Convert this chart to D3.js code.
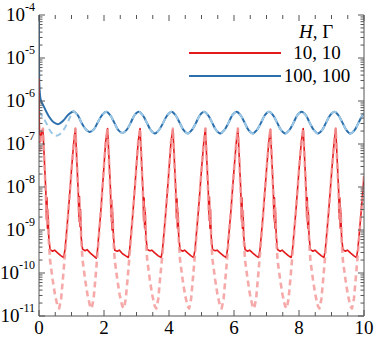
<!DOCTYPE html>
<html><head><meta charset="utf-8">
<script src="https://cdn.jsdelivr.net/npm/d3@7"></script>
<style>body{margin:0;background:#fff}svg{display:block}</style>
</head><body><svg id="c" width="380" height="338"></svg>
<script>
// ---- data ----
const xTicks = [0, 2, 4, 6, 8, 10];
const yExponents = [-4, -5, -6, -7, -8, -9, -10, -11];
const legendTitle = ["H", ", Γ"];
const legendLabels = ["10, 10", "100, 100"];

// H=10, Γ=10 (solid)
const redSolid = [
 [0,3.4e-6],[0.01,3e-7],[0.025,1.1e-7],[0.05,1.4e-7],[0.08,1.9e-7],
 [0.12,2.2e-7],[0.17,3.5e-8],[0.21,8e-9],[0.23,1.8e-9],[0.245,5.6e-9],[0.26,1.1e-9],[0.275,2.8e-9],[0.30,7e-10],[0.34,3.5e-10],[0.42,3.2e-10],[0.48,3.4e-10],[0.58,2.9e-10],[0.68,2.5e-10],[0.76,2.3e-10],[0.80,3.5e-10],[0.90,2.5e-9],[1.00,2.5e-8],[1.07,1.1e-7],
 [1.12,2.3e-7],[1.17,3.2e-8],[1.21,7e-9],[1.23,1.6e-9],[1.245,6e-9],[1.26,1.2e-9],[1.275,3e-9],[1.30,6.5e-10],[1.34,3.6e-10],[1.42,3.3e-10],[1.48,3.5e-10],[1.58,2.9e-10],[1.68,2.5e-10],[1.76,2.2e-10],[1.80,3.4e-10],[1.90,2.6e-9],[1.99,2.4e-8],[2.05,1.1e-7],
 [2.11,2.3e-7],[2.16,3.6e-8],[2.20,8.5e-9],[2.22,2e-9],[2.235,5e-9],[2.25,1e-9],[2.265,2.6e-9],[2.29,7e-10],[2.33,3.4e-10],[2.41,3.2e-10],[2.47,3.4e-10],[2.57,2.8e-10],[2.67,2.5e-10],[2.75,2.3e-10],[2.79,3.5e-10],[2.89,2.5e-9],[2.99,2.6e-8],[3.05,1.1e-7],
 [3.11,2.3e-7],[3.16,3.4e-8],[3.20,7.5e-9],[3.22,1.7e-9],[3.235,5.5e-9],[3.25,1.1e-9],[3.265,2.9e-9],[3.29,7e-10],[3.33,3.5e-10],[3.41,3.3e-10],[3.47,3.4e-10],[3.57,2.9e-10],[3.67,2.5e-10],[3.76,2.3e-10],[3.80,3.5e-10],[3.90,2.5e-9],[4.00,2.5e-8],[4.06,1.1e-7],
 [4.12,2.2e-7],[4.17,3.5e-8],[4.21,8e-9],[4.23,1.9e-9],[4.245,5.4e-9],[4.26,1.1e-9],[4.275,2.7e-9],[4.30,7e-10],[4.34,3.5e-10],[4.42,3.2e-10],[4.48,3.4e-10],[4.58,2.9e-10],[4.68,2.5e-10],[4.76,2.3e-10],[4.80,3.5e-10],[4.90,2.5e-9],[5.00,2.5e-8],[5.07,1.1e-7],
 [5.12,2.3e-7],[5.17,3.3e-8],[5.21,7.5e-9],[5.23,1.7e-9],[5.245,5.8e-9],[5.26,1.1e-9],[5.275,2.9e-9],[5.30,6.8e-10],[5.34,3.5e-10],[5.42,3.3e-10],[5.48,3.4e-10],[5.58,2.9e-10],[5.68,2.5e-10],[5.76,2.3e-10],[5.80,3.5e-10],[5.90,2.5e-9],[6.00,2.5e-8],[6.07,1.1e-7],
 [6.12,2.3e-7],[6.17,3.5e-8],[6.21,8e-9],[6.23,1.8e-9],[6.245,5.6e-9],[6.26,1.1e-9],[6.275,2.8e-9],[6.30,7e-10],[6.34,3.5e-10],[6.42,3.2e-10],[6.48,3.4e-10],[6.58,2.9e-10],[6.68,2.5e-10],[6.76,2.3e-10],[6.80,3.5e-10],[6.90,2.5e-9],[7.00,2.5e-8],[7.07,1.1e-7],
 [7.12,2.2e-7],[7.17,3.4e-8],[7.21,7.8e-9],[7.23,1.8e-9],[7.245,5.6e-9],[7.26,1.1e-9],[7.275,2.8e-9],[7.30,7e-10],[7.34,3.5e-10],[7.42,3.2e-10],[7.48,3.4e-10],[7.58,2.9e-10],[7.68,2.5e-10],[7.76,2.3e-10],[7.80,3.5e-10],[7.90,2.5e-9],[8.00,2.5e-8],[8.07,1.1e-7],
 [8.13,2.3e-7],[8.18,3.5e-8],[8.22,8e-9],[8.24,1.8e-9],[8.255,5.6e-9],[8.27,1.1e-9],[8.285,2.8e-9],[8.31,7e-10],[8.35,3.5e-10],[8.43,3.2e-10],[8.49,3.4e-10],[8.59,2.9e-10],[8.69,2.5e-10],[8.77,2.3e-10],[8.81,3.5e-10],[8.91,2.5e-9],[9.01,2.5e-8],[9.08,1.1e-7],
 [9.13,2.3e-7],[9.18,3.5e-8],[9.22,8e-9],[9.24,1.8e-9],[9.255,5.6e-9],[9.27,1.1e-9],[9.285,2.8e-9],[9.31,7e-10],[9.35,3.5e-10],[9.43,3.2e-10],[9.49,3.4e-10],[9.59,2.9e-10],[9.69,2.5e-10],[9.77,2.3e-10],[9.81,3.5e-10],[9.91,2.5e-9],[10.0,1.8e-8]
];
// H=10, Γ=10 (dashed, light)
const redDashed = [
 [0,1.6e-7],[0.02,6e-8],[0.05,9e-8],[0.08,1.6e-7],
 [0.12,2.3e-7],[0.17,3.2e-8],[0.21,6.5e-9],[0.24,1.6e-9],[0.27,3.2e-9],[0.30,6e-10],[0.34,2e-10],[0.42,7e-11],[0.49,3.2e-11],[0.57,1.7e-11],[0.62,1.5e-11],[0.68,2.5e-11],[0.74,8e-11],[0.80,2.8e-10],[0.90,2.5e-9],[1.00,2.5e-8],[1.07,1.1e-7],
 [1.12,2.3e-7],[1.17,3.2e-8],[1.21,6.5e-9],[1.24,1.6e-9],[1.27,3.2e-9],[1.30,6e-10],[1.34,2e-10],[1.42,7e-11],[1.49,3.2e-11],[1.57,1.7e-11],[1.62,1.5e-11],[1.68,2.5e-11],[1.74,8e-11],[1.80,2.8e-10],[1.90,2.5e-9],[1.99,2.5e-8],[2.05,1.1e-7],
 [2.11,2.3e-7],[2.16,3.2e-8],[2.20,6.5e-9],[2.23,1.6e-9],[2.26,3.2e-9],[2.29,6e-10],[2.33,2e-10],[2.41,7e-11],[2.48,3.2e-11],[2.56,1.7e-11],[2.61,1.5e-11],[2.67,2.5e-11],[2.73,8e-11],[2.79,2.8e-10],[2.89,2.5e-9],[2.99,2.5e-8],[3.05,1.1e-7],
 [3.11,2.3e-7],[3.16,3.2e-8],[3.20,6.5e-9],[3.23,1.6e-9],[3.26,3.2e-9],[3.29,6e-10],[3.33,2e-10],[3.41,7e-11],[3.48,3.2e-11],[3.56,1.7e-11],[3.61,1.5e-11],[3.67,2.5e-11],[3.73,8e-11],[3.80,2.8e-10],[3.90,2.5e-9],[4.00,2.5e-8],[4.06,1.1e-7],
 [4.12,2.3e-7],[4.17,3.2e-8],[4.21,6.5e-9],[4.24,1.6e-9],[4.27,3.2e-9],[4.30,6e-10],[4.34,2e-10],[4.42,7e-11],[4.49,3.2e-11],[4.57,1.7e-11],[4.62,1.5e-11],[4.68,2.5e-11],[4.74,8e-11],[4.80,2.8e-10],[4.90,2.5e-9],[5.00,2.5e-8],[5.07,1.1e-7],
 [5.12,2.3e-7],[5.17,3.2e-8],[5.21,6.5e-9],[5.24,1.6e-9],[5.27,3.2e-9],[5.30,6e-10],[5.34,2e-10],[5.42,7e-11],[5.49,3.2e-11],[5.57,1.7e-11],[5.62,1.5e-11],[5.68,2.5e-11],[5.74,8e-11],[5.80,2.8e-10],[5.90,2.5e-9],[6.00,2.5e-8],[6.07,1.1e-7],
 [6.12,2.3e-7],[6.17,3.2e-8],[6.21,6.5e-9],[6.24,1.6e-9],[6.27,3.2e-9],[6.30,6e-10],[6.34,2e-10],[6.42,7e-11],[6.49,3.2e-11],[6.57,1.7e-11],[6.62,1.5e-11],[6.68,2.5e-11],[6.74,8e-11],[6.80,2.8e-10],[6.90,2.5e-9],[7.00,2.5e-8],[7.07,1.1e-7],
 [7.12,2.3e-7],[7.17,3.2e-8],[7.21,6.5e-9],[7.24,1.6e-9],[7.27,3.2e-9],[7.30,6e-10],[7.34,2e-10],[7.42,7e-11],[7.49,3.2e-11],[7.57,1.7e-11],[7.62,1.5e-11],[7.68,2.5e-11],[7.74,8e-11],[7.80,2.8e-10],[7.90,2.5e-9],[8.00,2.5e-8],[8.07,1.1e-7],
 [8.13,2.3e-7],[8.18,3.2e-8],[8.22,6.5e-9],[8.25,1.6e-9],[8.28,3.2e-9],[8.31,6e-10],[8.35,2e-10],[8.43,7e-11],[8.50,3.2e-11],[8.58,1.7e-11],[8.63,1.5e-11],[8.69,2.5e-11],[8.75,8e-11],[8.81,2.8e-10],[8.91,2.5e-9],[9.01,2.5e-8],[9.08,1.1e-7],
 [9.13,2.3e-7],[9.18,3.2e-8],[9.22,6.5e-9],[9.25,1.6e-9],[9.28,3.2e-9],[9.31,6e-10],[9.35,2e-10],[9.43,7e-11],[9.50,3.2e-11],[9.58,1.7e-11],[9.63,1.5e-11],[9.69,2.5e-11],[9.75,8e-11],[9.81,2.8e-10],[9.91,2.5e-9],[10.0,1.8e-8]
];
// H=100, Γ=100 (solid)
const blueSolid = [
 [0,1.2e-4],[0.01,2.5e-6],[0.03,1.4e-6],[0.06,1.02e-6],[0.15,7.4e-7],[0.31,4.3e-7],[0.45,3.2e-7],[0.60,2.9e-7],[0.75,3.5e-7],[0.90,4.8e-7],
 [1.06,5.7e-7],[1.19,4.7e-7],[1.31,3.1e-7],[1.44,2.2e-7],[1.56,1.9e-7],[1.69,2.2e-7],[1.81,3.2e-7],[1.94,4.7e-7],
 [2.07,5.6e-7],[2.19,4.7e-7],[2.32,3.1e-7],[2.44,2.1e-7],[2.57,1.8e-7],[2.69,2.1e-7],[2.82,3.1e-7],[2.94,4.7e-7],
 [3.07,5.6e-7],[3.19,4.7e-7],[3.32,3.1e-7],[3.44,2.1e-7],[3.57,1.75e-7],[3.69,2.1e-7],[3.82,3.1e-7],[3.95,4.7e-7],
 [4.08,5.6e-7],[4.20,4.7e-7],[4.33,3.1e-7],[4.45,2.1e-7],[4.58,1.75e-7],[4.70,2.1e-7],[4.83,3.1e-7],[4.95,4.7e-7],
 [5.08,5.6e-7],[5.20,4.7e-7],[5.33,3.1e-7],[5.45,2.1e-7],[5.58,1.75e-7],[5.70,2.1e-7],[5.83,3.1e-7],[5.95,4.7e-7],
 [6.08,5.6e-7],[6.20,4.7e-7],[6.33,3.1e-7],[6.45,2.1e-7],[6.58,1.75e-7],[6.70,2.1e-7],[6.83,3.1e-7],[6.95,4.7e-7],
 [7.08,5.6e-7],[7.20,4.7e-7],[7.33,3.1e-7],[7.45,2.1e-7],[7.58,1.75e-7],[7.70,2.1e-7],[7.83,3.1e-7],[7.95,4.7e-7],
 [8.08,5.6e-7],[8.21,4.7e-7],[8.33,3.1e-7],[8.46,2.1e-7],[8.58,1.75e-7],[8.71,2.1e-7],[8.83,3.1e-7],[8.96,4.7e-7],
 [9.09,5.6e-7],[9.21,4.7e-7],[9.34,3.1e-7],[9.46,2.1e-7],[9.58,1.75e-7],[9.71,2.1e-7],[9.83,3.1e-7],[9.96,4.7e-7],[10.09,5.6e-7]
];
// H=100, Γ=100 (dashed, light) — first cycle differs, then coincides
const blueDashedStart = [
 [0,5.7e-7],[0.12,4.2e-7],[0.24,2.9e-7],[0.36,1.95e-7],[0.51,1.55e-7],[0.62,1.65e-7],[0.72,1.95e-7],[0.87,3.0e-7],[0.97,4.5e-7],[1.06,5.7e-7]
];

// ---- chart ----
const FONT = '"Liberation Serif"';
const svg = d3.select("#c");
const L = 39, R = 364, T = 15, B = 316;
const x = d3.scaleLinear().domain([0, 10]).range([L, R]);
const y = d3.scaleLog().domain([1e-11, 1e-4]).range([B, T]);
const axisColor = "#555";

svg.append("clipPath").attr("id", "clip").append("rect")
  .attr("x", L).attr("y", T).attr("width", R - L).attr("height", B - T);

const plot = svg.append("g").attr("clip-path", "url(#clip)");
const lineLin = d3.line().x(d => x(d[0])).y(d => y(d[1]));
const lineSmooth = d3.line().x(d => x(d[0])).y(d => y(d[1])).curve(d3.curveCatmullRom.alpha(0.5));

const blueDashed = blueDashedStart.concat(blueSolid.filter(d => d[0] > 1.06));

plot.append("path").datum(blueSolid).attr("d", lineSmooth)
  .attr("fill", "none").attr("stroke", "#2b6fad").attr("stroke-width", 2);
plot.append("path").datum(blueDashed).attr("d", lineSmooth)
  .attr("fill", "none").attr("stroke", "#9cc8e6").attr("stroke-width", 2)
  .attr("stroke-dasharray", "6,4");
plot.append("path").datum(redSolid).attr("d", lineLin)
  .attr("fill", "none").attr("stroke", "#e31a1c").attr("stroke-width", 1.6).attr("stroke-linejoin", "round");
plot.append("path").datum(redDashed).attr("d", lineLin)
  .attr("fill", "none").attr("stroke", "#f59a9a").attr("stroke-opacity", 0.85).attr("stroke-width", 2.6)
  .attr("stroke-dasharray", "6,4").attr("stroke-linejoin", "round");

// axes
const ax = svg.append("g").attr("stroke", axisColor).attr("stroke-width", 1);
ax.append("line").attr("x1", L).attr("x2", L).attr("y1", T).attr("y2", B);
ax.append("line").attr("x1", R).attr("x2", R).attr("y1", T).attr("y2", B);
ax.append("line").attr("x1", L).attr("x2", R).attr("y1", B).attr("y2", B);

// x ticks (every 0.5), top and bottom, inward
const xMinor = d3.range(0, 10.01, 0.5);
xMinor.forEach(v => {
  const major = xTicks.includes(v);
  const len = major ? 6 : 4;
  ax.append("line").attr("x1", x(v)).attr("x2", x(v)).attr("y1", B).attr("y2", B - len);
  ax.append("line").attr("x1", x(v)).attr("x2", x(v)).attr("y1", T).attr("y2", T + len);
});
// y ticks: major decades, minor 2..9, left and right, inward
yExponents.forEach(e => {
  const v = Math.pow(10, e);
  ax.append("line").attr("x1", L).attr("x2", L + 6).attr("y1", y(v)).attr("y2", y(v));
  ax.append("line").attr("x1", R).attr("x2", R - 6).attr("y1", y(v)).attr("y2", y(v));
  if (e < -4) {
    for (let m = 2; m <= 9; m++) {
      const mv = m * v;
      ax.append("line").attr("x1", L).attr("x2", L + 3.5).attr("y1", y(mv)).attr("y2", y(mv));
      ax.append("line").attr("x1", R).attr("x2", R - 3.5).attr("y1", y(mv)).attr("y2", y(mv));
    }
  }
});

// x labels
svg.append("g").selectAll("text").data(xTicks).join("text")
  .style("font-family", FONT)
  .attr("x", d => x(d)).attr("y", 334).attr("text-anchor", "middle")
  .attr("font-size", 19).text(d => d);

// y labels
const yl = svg.append("g").selectAll("text").data(yExponents).join("text")
  .style("font-family", FONT)
  .attr("x", 35).attr("y", d => y(Math.pow(10, d)) + 6).attr("text-anchor", "end")
  .attr("font-size", 19);
yl.append("tspan").text("10");
yl.append("tspan").attr("font-size", 12).attr("dy", -10).text(d => "-" + Math.abs(d));

// legend
const lg = svg.append("g");
const lt = lg.append("text").style("font-family", FONT).attr("x", 316).attr("y", 38).attr("text-anchor", "middle").attr("font-size", 19);
lt.append("tspan").attr("font-style", "italic").text(legendTitle[0]);
lt.append("tspan").text(legendTitle[1]);
const legendColors = ["#e31a1c", "#2b6fad"];
const legendY = [53, 76];
legendLabels.forEach((lab, i) => {
  lg.append("line").attr("x1", 189).attr("x2", 281).attr("y1", legendY[i]).attr("y2", legendY[i])
    .attr("stroke", legendColors[i]).attr("stroke-width", 2);
  lg.append("text").style("font-family", FONT).attr("x", 317).attr("y", legendY[i] + 6).attr("text-anchor", "middle")
    .attr("font-size", 19).text(lab);
});
</script></body></html>
